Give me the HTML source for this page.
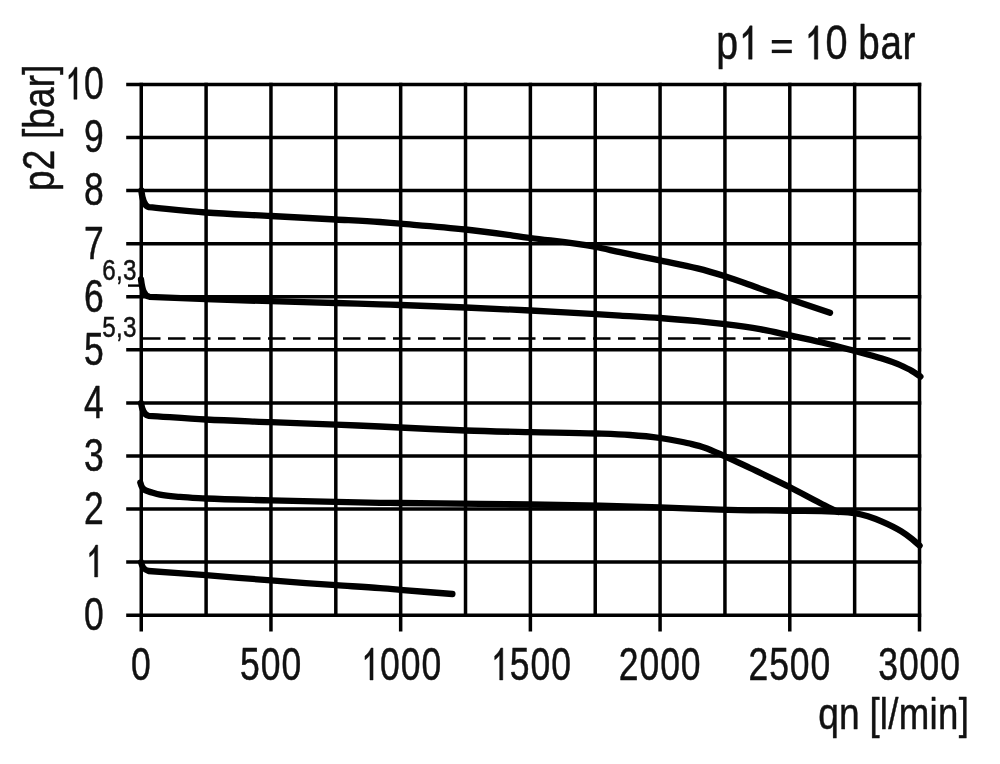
<!DOCTYPE html>
<html><head><meta charset="utf-8"><title>chart</title>
<style>
html,body{margin:0;padding:0;background:#fff;}
body{width:1000px;height:764px;overflow:hidden;font-family:"Liberation Sans",sans-serif;}
svg{display:block;filter:grayscale(1);}
text{font-family:"Liberation Sans",sans-serif;fill:#111;}
path.g{fill:#111;}
</style></head><body>
<svg width="1000" height="764" viewBox="0 0 1000 764">
<rect width="1000" height="764" fill="#fff"/>
<g stroke="#000" stroke-width="3.5" fill="none" shape-rendering="auto">
<line x1="141.25" y1="82.65" x2="141.25" y2="631.50"/>
<line x1="206.10" y1="82.65" x2="206.10" y2="616.95"/>
<line x1="270.96" y1="82.65" x2="270.96" y2="631.50"/>
<line x1="335.81" y1="82.65" x2="335.81" y2="616.95"/>
<line x1="400.67" y1="82.65" x2="400.67" y2="631.50"/>
<line x1="465.52" y1="82.65" x2="465.52" y2="616.95"/>
<line x1="530.38" y1="82.65" x2="530.38" y2="631.50"/>
<line x1="595.23" y1="82.65" x2="595.23" y2="616.95"/>
<line x1="660.08" y1="82.65" x2="660.08" y2="631.50"/>
<line x1="724.94" y1="82.65" x2="724.94" y2="616.95"/>
<line x1="789.79" y1="82.65" x2="789.79" y2="631.50"/>
<line x1="854.65" y1="82.65" x2="854.65" y2="616.95"/>
<line x1="919.50" y1="82.65" x2="919.50" y2="631.50"/>
<line x1="126.2" y1="615.20" x2="921.25" y2="615.20"/>
<line x1="126.2" y1="562.12" x2="921.25" y2="562.12"/>
<line x1="126.2" y1="509.04" x2="921.25" y2="509.04"/>
<line x1="126.2" y1="455.96" x2="921.25" y2="455.96"/>
<line x1="126.2" y1="402.88" x2="921.25" y2="402.88"/>
<line x1="126.2" y1="349.80" x2="921.25" y2="349.80"/>
<line x1="126.2" y1="296.72" x2="921.25" y2="296.72"/>
<line x1="126.2" y1="243.64" x2="921.25" y2="243.64"/>
<line x1="126.2" y1="190.56" x2="921.25" y2="190.56"/>
<line x1="126.2" y1="137.48" x2="921.25" y2="137.48"/>
<line x1="126.2" y1="84.40" x2="921.25" y2="84.40"/>
</g>
<line x1="128" y1="285.6" x2="141" y2="285.6" stroke="#000" stroke-width="2.4"/>
<line x1="143" y1="338.5" x2="911" y2="338.5" stroke="#000" stroke-width="2.3" stroke-dasharray="17.5 7.5"/>
<g stroke="#000" stroke-width="6.3" fill="none" stroke-linecap="round" stroke-linejoin="round">
<path d="M141.3,190.5 C142.5,199.7 143.9,205.8 149.0,207.2 C168.0,209.0 186.9,211.1 205.9,212.5 C227.6,214.1 249.3,214.8 271.0,216.0 C292.7,217.2 314.3,218.3 336.0,219.5 C350.7,220.3 365.3,220.9 380.0,222.0 C386.8,222.5 393.7,223.1 400.5,223.7 C422.2,225.5 444.0,227.1 465.7,229.5 C487.3,231.9 508.9,235.1 530.5,238.0 C552.3,240.9 574.2,242.7 596.0,247.0 C604.0,248.6 612.0,250.5 620.0,252.2 C633.3,255.0 646.7,257.6 660.0,260.4 C672.5,263.0 685.0,265.2 697.5,268.4 C706.7,270.7 715.8,273.4 725.0,276.3 C736.7,280.0 748.3,284.5 760.0,288.6 C770.0,292.1 780.0,295.8 790.0,299.3 C803.3,303.9 816.7,308.3 830.0,312.8"/>
<path d="M141.0,279.5 C142.2,289.0 143.6,295.4 149.5,296.8 C168.3,297.6 187.1,298.5 205.9,299.2 C227.6,300.0 249.3,300.6 271.0,301.2 C292.7,301.8 314.3,302.4 336.0,303.0 C350.7,303.4 365.3,303.8 380.0,304.3 C386.8,304.5 393.7,304.8 400.5,305.0 C422.2,305.8 444.0,306.6 465.7,307.5 C487.3,308.4 508.9,309.4 530.5,310.5 C552.3,311.6 574.2,312.9 596.0,314.2 C604.0,314.7 612.0,315.1 620.0,315.6 C633.3,316.4 646.7,317.0 660.0,318.0 C672.5,318.9 685.0,320.0 697.5,321.2 C706.7,322.1 715.8,323.1 725.0,324.2 C736.7,325.6 748.3,327.1 760.0,329.2 C770.0,331.0 780.0,333.3 790.0,335.4 C800.7,337.7 811.3,339.9 822.0,342.5 C832.8,345.1 843.7,348.1 854.5,351.0 C863.0,353.3 871.5,355.3 880.0,358.0 C886.7,360.1 893.3,362.0 900.0,365.0 C904.0,366.8 908.0,368.6 912.0,371.0 C914.8,372.7 917.6,374.7 920.4,376.6"/>
<path d="M141.0,403.0 C142.2,410.0 143.6,414.4 148.5,415.8 C167.6,417.0 186.8,418.5 205.9,419.5 C227.6,420.7 249.3,421.3 271.0,422.2 C292.7,423.0 314.3,423.7 336.0,424.6 C350.7,425.2 365.3,425.8 380.0,426.5 C386.7,426.8 393.3,427.2 400.0,427.5 C421.9,428.6 443.9,429.7 465.8,430.5 C487.5,431.3 509.3,431.7 531.0,432.2 C552.7,432.7 574.3,432.7 596.0,433.5 C607.3,433.9 618.7,434.2 630.0,435.0 C640.0,435.7 650.0,436.6 660.0,438.0 C666.7,439.0 673.3,440.2 680.0,441.5 C684.0,442.3 688.0,443.1 692.0,444.1 C696.0,445.1 700.0,446.1 704.0,447.4 C711.0,449.7 718.0,453.2 725.0,456.3 C733.3,460.0 741.7,464.1 750.0,468.0 C763.5,474.4 777.0,480.7 790.5,487.5 C800.3,492.5 810.2,498.0 820.0,503.0 C826.0,506.1 832.0,509.0 838.0,512.0"/>
<path d="M140.3,482.5 C141.5,487.5 142.9,490.2 149.0,491.6 C152.7,492.6 156.3,493.8 160.0,494.6 C166.7,496.0 173.3,496.3 180.0,496.9 C188.6,497.7 197.3,498.0 205.9,498.5 C227.6,499.6 249.3,499.8 271.0,500.4 C292.7,500.9 314.3,501.3 336.0,501.8 C350.7,502.1 365.3,502.6 380.0,502.8 C386.7,502.9 393.3,502.9 400.0,503.0 C426.7,503.3 453.3,503.6 480.0,503.9 C497.0,504.1 514.0,504.3 531.0,504.5 C554.0,504.8 577.0,505.1 600.0,505.6 C620.0,506.1 640.0,506.6 660.0,507.3 C680.0,508.0 700.0,509.0 720.0,509.6 C743.3,510.3 766.7,510.4 790.0,510.8 C804.7,511.0 819.3,510.6 834.0,511.5 C841.0,511.9 848.0,511.9 855.0,513.2 C864.0,514.8 873.0,517.8 882.0,521.6 C888.3,524.3 894.7,527.2 901.0,531.2 C904.7,533.5 908.3,536.1 912.0,539.0 C914.5,541.0 917.1,543.4 919.6,545.6"/>
<path d="M141.0,562.3 C142.2,567.1 143.6,569.6 148.5,571.0 C167.6,572.4 186.8,573.7 205.9,575.2 C227.6,576.9 249.3,578.7 271.0,580.4 C292.7,582.1 314.3,583.7 336.0,585.2 C350.7,586.2 365.3,586.9 380.0,588.1 C386.7,588.6 393.3,589.2 400.0,589.8 C417.5,591.3 434.9,592.6 452.4,594.0"/>
</g>
<g fill="#111" stroke="#111" stroke-width="0.5" stroke-linejoin="round">
<g transform="translate(140.85,680.00)"><text transform="translate(0.00,0) scale(0.755,1.0)" font-size="47" text-anchor="middle">0</text></g>
<g transform="translate(270.56,680.00)"><text transform="translate(-20.70,0) scale(0.755,1.0)" font-size="47" text-anchor="middle">5</text><text transform="translate(0.00,0) scale(0.755,1.0)" font-size="47" text-anchor="middle">0</text><text transform="translate(20.70,0) scale(0.755,1.0)" font-size="47" text-anchor="middle">0</text></g>
<g transform="translate(400.27,680.00)"><path transform="translate(-30.55,0) scale(0.01733,-0.02175) translate(-569.5,0)" stroke-width="21.8" d="M763,0 L583,0 L583,1147 Q531,1085 447,1023 Q362,961 295,930 L295,1104 Q416,1175 506,1276 Q600,1377 647,1472 L763,1472 Z"/><text transform="translate(-10.35,0) scale(0.755,1.0)" font-size="47" text-anchor="middle">0</text><text transform="translate(10.35,0) scale(0.755,1.0)" font-size="47" text-anchor="middle">0</text><text transform="translate(31.05,0) scale(0.755,1.0)" font-size="47" text-anchor="middle">0</text></g>
<g transform="translate(529.98,680.00)"><path transform="translate(-30.55,0) scale(0.01733,-0.02175) translate(-569.5,0)" stroke-width="21.8" d="M763,0 L583,0 L583,1147 Q531,1085 447,1023 Q362,961 295,930 L295,1104 Q416,1175 506,1276 Q600,1377 647,1472 L763,1472 Z"/><text transform="translate(-10.35,0) scale(0.755,1.0)" font-size="47" text-anchor="middle">5</text><text transform="translate(10.35,0) scale(0.755,1.0)" font-size="47" text-anchor="middle">0</text><text transform="translate(31.05,0) scale(0.755,1.0)" font-size="47" text-anchor="middle">0</text></g>
<g transform="translate(659.68,680.00)"><text transform="translate(-31.05,0) scale(0.755,1.0)" font-size="47" text-anchor="middle">2</text><text transform="translate(-10.35,0) scale(0.755,1.0)" font-size="47" text-anchor="middle">0</text><text transform="translate(10.35,0) scale(0.755,1.0)" font-size="47" text-anchor="middle">0</text><text transform="translate(31.05,0) scale(0.755,1.0)" font-size="47" text-anchor="middle">0</text></g>
<g transform="translate(789.39,680.00)"><text transform="translate(-31.05,0) scale(0.755,1.0)" font-size="47" text-anchor="middle">2</text><text transform="translate(-10.35,0) scale(0.755,1.0)" font-size="47" text-anchor="middle">5</text><text transform="translate(10.35,0) scale(0.755,1.0)" font-size="47" text-anchor="middle">0</text><text transform="translate(31.05,0) scale(0.755,1.0)" font-size="47" text-anchor="middle">0</text></g>
<g transform="translate(919.10,680.00)"><text transform="translate(-31.05,0) scale(0.755,1.0)" font-size="47" text-anchor="middle">3</text><text transform="translate(-10.35,0) scale(0.755,1.0)" font-size="47" text-anchor="middle">0</text><text transform="translate(10.35,0) scale(0.755,1.0)" font-size="47" text-anchor="middle">0</text><text transform="translate(31.05,0) scale(0.755,1.0)" font-size="47" text-anchor="middle">0</text></g>
<g transform="translate(104.20,630.10)"><text transform="translate(-10.35,0) scale(0.755,1.0)" font-size="47" text-anchor="middle">0</text></g>
<g transform="translate(104.20,577.02)"><path transform="translate(-9.85,0) scale(0.01733,-0.02175) translate(-569.5,0)" stroke-width="21.8" d="M763,0 L583,0 L583,1147 Q531,1085 447,1023 Q362,961 295,930 L295,1104 Q416,1175 506,1276 Q600,1377 647,1472 L763,1472 Z"/></g>
<g transform="translate(104.20,523.94)"><text transform="translate(-10.35,0) scale(0.755,1.0)" font-size="47" text-anchor="middle">2</text></g>
<g transform="translate(104.20,470.86)"><text transform="translate(-10.35,0) scale(0.755,1.0)" font-size="47" text-anchor="middle">3</text></g>
<g transform="translate(104.20,417.78)"><text transform="translate(-10.35,0) scale(0.755,1.0)" font-size="47" text-anchor="middle">4</text></g>
<g transform="translate(104.20,364.70)"><text transform="translate(-10.35,0) scale(0.755,1.0)" font-size="47" text-anchor="middle">5</text></g>
<g transform="translate(104.20,311.62)"><text transform="translate(-10.35,0) scale(0.755,1.0)" font-size="47" text-anchor="middle">6</text></g>
<g transform="translate(104.20,258.54)"><text transform="translate(-10.35,0) scale(0.755,1.0)" font-size="47" text-anchor="middle">7</text></g>
<g transform="translate(104.20,205.46)"><text transform="translate(-10.35,0) scale(0.755,1.0)" font-size="47" text-anchor="middle">8</text></g>
<g transform="translate(104.20,152.38)"><text transform="translate(-10.35,0) scale(0.755,1.0)" font-size="47" text-anchor="middle">9</text></g>
<g transform="translate(104.20,99.30)"><path transform="translate(-30.55,0) scale(0.01733,-0.02175) translate(-569.5,0)" stroke-width="21.8" d="M763,0 L583,0 L583,1147 Q531,1085 447,1023 Q362,961 295,930 L295,1104 Q416,1175 506,1276 Q600,1377 647,1472 L763,1472 Z"/><text transform="translate(-10.35,0) scale(0.755,1.0)" font-size="47" text-anchor="middle">0</text></g>
<g transform="translate(136.60,280.40)"><text transform="translate(-27.56,0) scale(0.82,1.0)" font-size="29.5" text-anchor="middle">6</text><text transform="translate(-17.22,0) scale(0.82,1.0)" font-size="29.5" text-anchor="middle">,</text><text transform="translate(-6.89,0) scale(0.82,1.0)" font-size="29.5" text-anchor="middle">3</text></g>
<g transform="translate(136.60,337.20)"><text transform="translate(-27.56,0) scale(0.82,1.0)" font-size="29.5" text-anchor="middle">5</text><text transform="translate(-17.22,0) scale(0.82,1.0)" font-size="29.5" text-anchor="middle">,</text><text transform="translate(-6.89,0) scale(0.82,1.0)" font-size="29.5" text-anchor="middle">3</text></g>
<g transform="translate(715.70,59.20)"><text transform="translate(11.45,0) scale(0.8,1.0)" font-size="49" text-anchor="middle">p</text></g>
<g transform="translate(736.40,59.20)"><path transform="translate(11.97,0) scale(0.01938,-0.02267) translate(-569.5,0)" stroke-width="20.9" d="M763,0 L583,0 L583,1147 Q531,1085 447,1023 Q362,961 295,930 L295,1104 Q416,1175 506,1276 Q600,1377 647,1472 L763,1472 Z"/></g>
<rect x="771.8" y="40.0" width="20.0" height="3.5" stroke="none"/><rect x="771.8" y="49.7" width="20.0" height="3.4" stroke="none"/>
<g transform="translate(847.90,59.20)"><path transform="translate(-33.82,0) scale(0.01938,-0.02267) translate(-569.5,0)" stroke-width="20.9" d="M763,0 L583,0 L583,1147 Q531,1085 447,1023 Q362,961 295,930 L295,1104 Q416,1175 506,1276 Q600,1377 647,1472 L763,1472 Z"/><text transform="translate(-11.45,0) scale(0.81,1.0)" font-size="49" text-anchor="middle">0</text></g>
<g transform="translate(915.60,59.20)"><text transform="translate(-46.63,0) scale(0.82,1.03)" font-size="47" text-anchor="middle">b</text><text transform="translate(-24.41,0) scale(0.82,1.03)" font-size="47" text-anchor="middle">a</text><text transform="translate(-6.65,0) scale(0.82,1.03)" font-size="47" text-anchor="middle">r</text></g>
<g transform="translate(818.00,728.60)"><text transform="translate(10.46,0) scale(0.79,0.95)" font-size="47" text-anchor="middle">q</text><text transform="translate(31.37,0) scale(0.79,0.95)" font-size="47" text-anchor="middle">n</text></g>
<g transform="translate(969.00,728.60)"><text transform="translate(-94.46,0) scale(0.78,0.95)" font-size="47" text-anchor="middle">[</text><text transform="translate(-85.12,0) scale(0.78,0.95)" font-size="47" text-anchor="middle">l</text><text transform="translate(-75.78,0) scale(0.78,0.95)" font-size="47" text-anchor="middle">/</text><text transform="translate(-55.03,0) scale(0.78,0.95)" font-size="47" text-anchor="middle">m</text><text transform="translate(-35.31,0) scale(0.78,0.95)" font-size="47" text-anchor="middle">i</text><text transform="translate(-20.77,0) scale(0.78,0.95)" font-size="47" text-anchor="middle">n</text><text transform="translate(-5.19,0) scale(0.78,0.95)" font-size="47" text-anchor="middle">]</text></g>
<g transform="translate(53.50,191.00) rotate(-90)"><text transform="translate(10.38,0) scale(0.785,0.95)" font-size="47" text-anchor="middle">p</text><text transform="translate(31.13,0) scale(0.785,0.95)" font-size="47" text-anchor="middle">2</text><text transform="translate(57.06,0) scale(0.785,0.95)" font-size="47" text-anchor="middle">[</text><text transform="translate(72.62,0) scale(0.785,0.95)" font-size="47" text-anchor="middle">b</text><text transform="translate(93.38,0) scale(0.785,0.95)" font-size="47" text-anchor="middle">a</text><text transform="translate(109.97,0) scale(0.785,0.95)" font-size="47" text-anchor="middle">r</text><text transform="translate(121.37,0) scale(0.785,0.95)" font-size="47" text-anchor="middle">]</text></g>
</g>
</svg>
</body></html>
